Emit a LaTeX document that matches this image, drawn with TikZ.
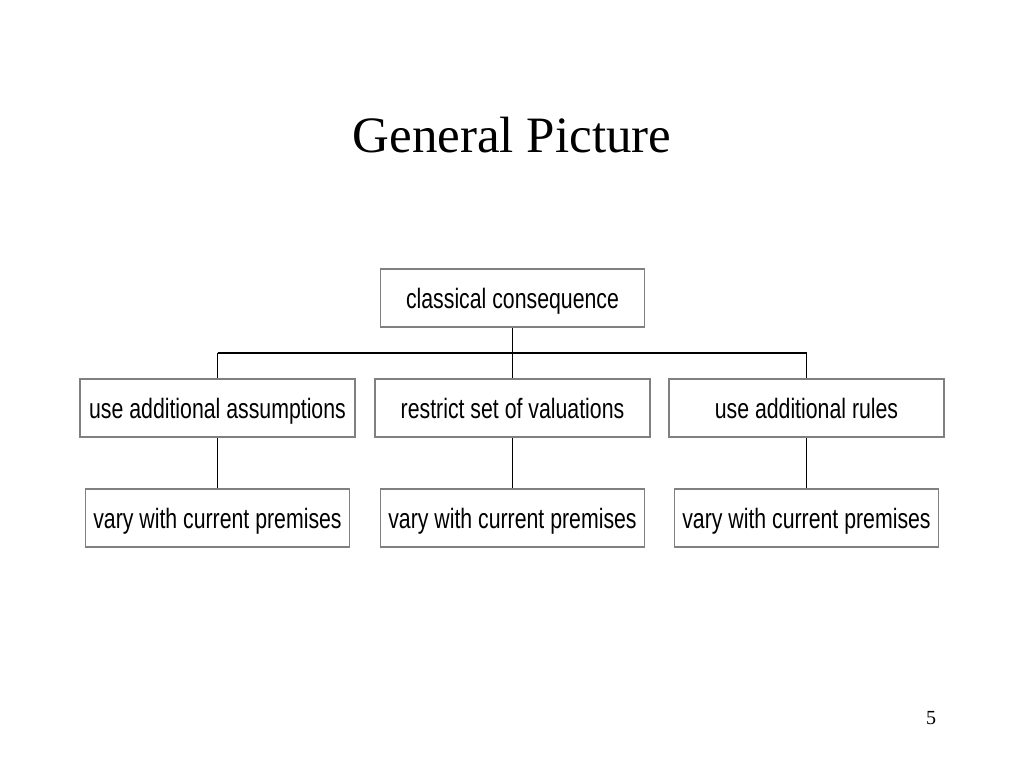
\documentclass[tikz,border=0pt]{standalone}
\usepackage{fontspec}
\setmainfont{Liberation Serif}
\newfontfamily\narrowsans[FakeStretch=0.76]{Liberation Sans}
\begin{document}
\begin{tikzpicture}[x=1pt,y=-1pt,
  caja/.style={draw=black!50, line width=1.5pt, fill=white, minimum height=58pt,
    inner sep=2pt, text height=23pt, text depth=3pt,
    font=\narrowsans\fontsize{28}{32}\selectfont},
  linea/.style={line width=1.3pt}]
\useasboundingbox (0,0) rectangle (1024,768);
\node[anchor=base, font=\fontsize{51}{56}\selectfont] (titulo) at (512,152) {General Picture};
\node[caja, minimum width=264pt] (uno) at (512.5,298) {classical consequence};
\node[caja, minimum width=275pt] (dos) at (217.5,408) {use additional assumptions};
\node[caja, minimum width=275pt] (tres) at (512.5,408) {restrict set of valuations};
\node[caja, minimum width=275pt] (cuatro) at (806.5,408) {use additional rules};
\node[caja, minimum width=264pt] (cinco) at (217.5,518) {vary with current premises};
\node[caja, minimum width=264pt] (seis) at (512.5,518) {vary with current premises};
\node[caja, minimum width=264pt] (siete) at (806.5,518) {vary with current premises};
\node[anchor=base, font=\fontsize{20}{24}\selectfont] (pagina) at (931,724) {5};
\coordinate (bus) at (512.5,353);
\draw[line width=2pt] (dos |- bus) -- (cuatro |- bus);
\draw[linea] (uno) -- (tres);
\draw[linea] (dos) -- (dos |- bus);
\draw[linea] (cuatro) -- (cuatro |- bus);
\draw[linea] (dos) -- (cinco);
\draw[linea] (tres) -- (seis);
\draw[linea] (cuatro) -- (siete);
\end{tikzpicture}
\end{document}
